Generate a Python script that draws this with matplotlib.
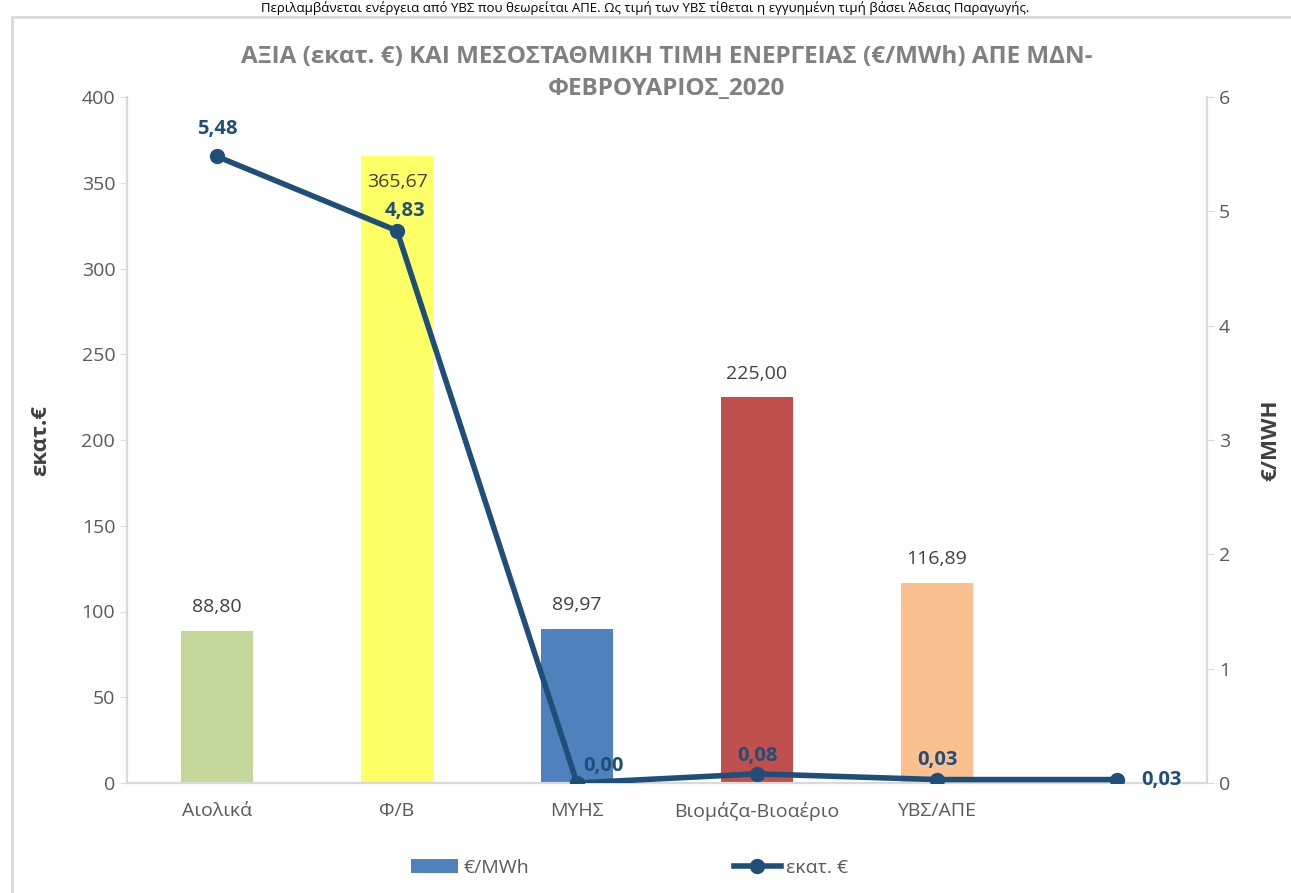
import matplotlib.pyplot as plt
from matplotlib.patches import Rectangle, Patch
from matplotlib.lines import Line2D

plt.rcParams['font.family'] = ['Open Sans', 'DejaVu Sans']

categories = ["Αιολικά", "Φ/Β", "ΜΥΗΣ", "Βιομάζα-Βιοαέριο", "ΥΒΣ/ΑΠΕ", ""]
bar_values = [88.80, 365.67, 89.97, 225.00, 116.89, None]
bar_colors = ["#C4D79B", "#FFFF66", "#4F81BD", "#C0504D", "#FAC090", "#FFFFFF"]
line_values = [5.48, 4.83, 0.00, 0.08, 0.03, 0.03]
title = "ΑΞΙΑ (εκατ. €) ΚΑΙ ΜΕΣΟΣΤΑΘΜΙΚΗ ΤΙΜΗ ΕΝΕΡΓΕΙΑΣ (€/MWh) ΑΠΕ ΜΔΝ-\nΦΕΒΡΟΥΑΡΙΟΣ_2020"
note = "Περιλαμβάνεται ενέργεια από ΥΒΣ που θεωρείται ΑΠΕ. Ως τιμή των ΥΒΣ τίθεται η εγγυημένη τιμή βάσει Άδειας Παραγωγής."

line_color = "#1F4E79"
grid_gray = "#D9D9D9"
tick_gray = "#595959"

fig = plt.figure(figsize=(12.91, 8.93), dpi=100)
fig.patch.set_facecolor("white")

# chart frame + note line at the very top
fig.add_artist(Rectangle((12 / 1291, -0.01), 1.2, 1 - 17 / 893 + 0.01,
                         transform=fig.transFigure, fill=False,
                         edgecolor=grid_gray, linewidth=2))
fig.text(0.5, 1 - 1 / 893, note, ha="center", va="top", fontsize=9.5,
         color="black")

ax = fig.add_axes([127 / 1291, 1 - 783 / 893, (1207 - 127) / 1291, (783 - 97) / 893])
ax2 = ax.twinx()

x = list(range(len(categories)))
for i, (v, c) in enumerate(zip(bar_values, bar_colors)):
    if v is None:
        continue
    ax.bar(i, v, width=0.4, color=c, zorder=2)
    dy = -19 if i == 1 else 17
    ax.annotate(f"{v:.2f}".replace(".", ","), (i, v), xytext=(0, dy),
                textcoords="offset points", ha="center", va="center",
                fontsize=14, color="#404040")

ax.set_xlim(-0.5, 5.5)
ax.set_ylim(0, 400)
ax.set_yticks(range(0, 401, 50))
ax.set_xticks(x)
ax.set_xticklabels(categories)

ax2.plot(x, line_values, color=line_color, linewidth=4, marker="o",
         markersize=10, zorder=5, solid_capstyle="round")
ax2.set_ylim(0, 6)
ax2.set_yticks(range(0, 7))

label_offsets = [(0, 20), (6, 14), (19, 12), (0, 13), (0, 14), (32, 0)]
for i, (v, off) in enumerate(zip(line_values, label_offsets)):
    ax2.annotate(f"{v:.2f}".replace(".", ","), (i, v), xytext=off,
                 textcoords="offset points", ha="center", va="center",
                 fontsize=14.5, fontweight="bold", color=line_color)

for a in (ax, ax2):
    a.set_facecolor("none")
    a.spines["top"].set_visible(False)
    for s in ("left", "right", "bottom"):
        a.spines[s].set_color(grid_gray)
        a.spines[s].set_linewidth(1.5)
    a.tick_params(colors=grid_gray, labelcolor=tick_gray, labelsize=14, length=5)
ax.tick_params(axis="x", length=0, pad=14)

ax.set_ylabel("εκατ.€", fontsize=16, fontweight="bold", color="#404040", labelpad=22)
ax2.set_ylabel("€/MWH", fontsize=16, fontweight="bold", color="#404040",
               rotation=90, labelpad=22)

fig.text((127 + 1207) / 2 / 1291, 1 - 73 / 893, title, ha="center", va="center",
         fontsize=17.5, fontweight="bold", color="#808080", linespacing=1.4)

handles = [Patch(facecolor="#4F81BD", label="€/MWh"),
           Line2D([0], [0], color=line_color, linewidth=4, marker="o",
                  markersize=10, label="εκατ. €")]
fig.legend(handles=handles, loc="center", bbox_to_anchor=(630 / 1291, 1 - 868 / 893),
           ncol=2, frameon=False, fontsize=14, columnspacing=10.5,
           handlelength=2.4, handletextpad=0.3, labelcolor=tick_gray)

fig.savefig("out.png", dpi=100, facecolor="white")
